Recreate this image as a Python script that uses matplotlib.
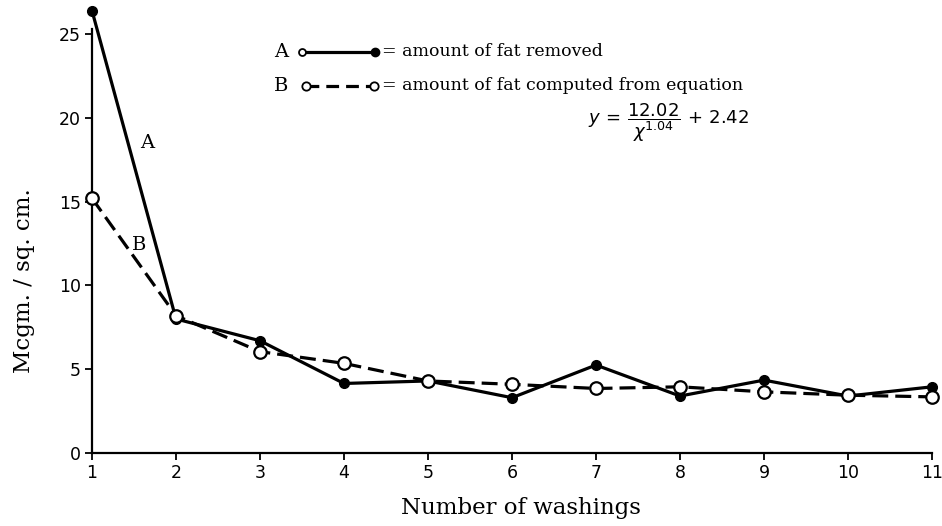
import matplotlib
matplotlib.use("Agg")
import matplotlib.pyplot as plt
from matplotlib.lines import Line2D

# Washing number and fat amounts (Mcgm./sq.cm.)
washings = [1, 2, 3, 4, 5, 6, 7, 8, 9, 10, 11]
fat_removed = [26.4, 8.0, 6.7, 4.15, 4.3, 3.3, 5.25, 3.4, 4.35, 3.4, 3.95]
fat_computed = [15.2, 8.2, 6.05, 5.35, 4.3, 4.1, 3.85, 3.95, 3.65, 3.45, 3.35]
y_ticks = [0, 5, 10, 15, 20, 25]

W, H = 942, 526
fig = plt.figure(figsize=(W / 100, H / 100), dpi=100)
ax = fig.add_axes([92 / W, 1 - 453 / H, 840 / W, 452.4 / H])
ax.set_xlim(1, 11)
ax.set_ylim(0, 27)

serif = ["DejaVu Serif"]

ax.plot(washings, fat_removed, color="black", lw=2.3, marker="o", ms=7,
        mfc="black", mec="black", clip_on=False, zorder=3)
ax.plot(washings, fat_computed, color="black", lw=2.3, ls=(0, (5, 2.2)),
        marker="o", ms=9, mfc="white", mec="black", mew=1.6,
        clip_on=False, zorder=4)

for s in ("top", "right"):
    ax.spines[s].set_visible(False)
ax.spines["left"].set_bounds(0, 25.3)
ax.spines["left"].set_linewidth(1.6)
ax.spines["bottom"].set_linewidth(1.6)

ax.set_xticks(washings)
ax.set_xticklabels([str(v) for v in washings])
ax.set_yticks(y_ticks)
ax.set_yticklabels([str(v) for v in y_ticks])
ax.tick_params(axis="both", direction="out", length=5, width=1.3,
               labelsize=12.5, pad=3)

ax.set_xlabel("Number of washings", family=serif, fontsize=16.5,
              va="center", ha="center")
ax.xaxis.set_label_coords(0.511, -0.122)
ax.set_ylabel("Mcgm. / sq. cm.", family=serif, fontsize=16.5,
              va="center", ha="center")
ax.yaxis.set_label_coords(-0.081, 0.382)

# Curve tags
ax.text(1.66, 18.5, "A", family=serif, fontsize=14, ha="center", va="center")
ax.text(1.56, 12.4, "B", family=serif, fontsize=14, ha="center", va="center")


def fx(x):
    return x / W


def fy(y):
    return 1 - y / H


# Key
yA, yB = 52, 86
fig.text(fx(274), fy(yA), "A", family=serif, fontsize=14, va="center")
fig.add_artist(Line2D([fx(302), fx(375)], [fy(yA), fy(yA)], color="black",
                      lw=2.3, transform=fig.transFigure))
fig.add_artist(Line2D([fx(302)], [fy(yA)], marker="o", ms=5, mfc="white",
                      mec="black", mew=1.3, transform=fig.transFigure))
fig.add_artist(Line2D([fx(375)], [fy(yA)], marker="o", ms=6, mfc="black",
                      mec="black", transform=fig.transFigure))
fig.text(fx(382), fy(yA), "= amount of fat removed", family=serif,
         fontsize=12.5, va="center")

fig.text(fx(274), fy(yB), "B", family=serif, fontsize=14, va="center")
fig.add_artist(Line2D([fx(306), fx(374)], [fy(yB), fy(yB)], color="black",
                      lw=2.3, ls=(0, (4, 2.2)), transform=fig.transFigure))
fig.add_artist(Line2D([fx(306), fx(374)], [fy(yB), fy(yB)], ls="none",
                      marker="o", ms=6, mfc="white", mec="black", mew=1.3,
                      transform=fig.transFigure))
fig.text(fx(382), fy(yB), "= amount of fat computed from equation",
         family=serif, fontsize=12.5, va="center")

fig.text(fx(588), fy(123), r"$y\,=\,\dfrac{12.02}{\chi^{1.04}}\,+\,2.42$",
         fontsize=13, va="center")

fig.savefig("out.png", dpi=100)
